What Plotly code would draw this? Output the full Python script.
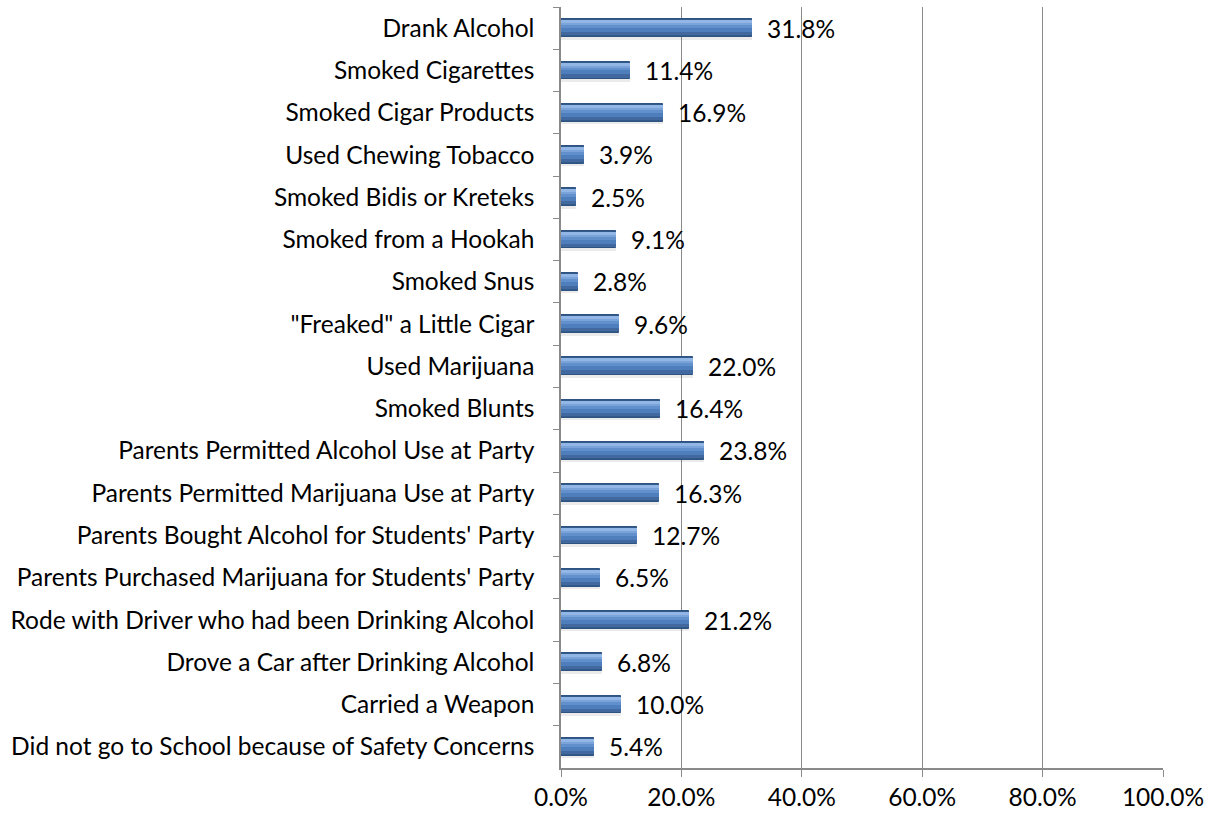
import plotly.graph_objects as go

categories = [
    "Drank Alcohol",
    "Smoked Cigarettes",
    "Smoked Cigar Products",
    "Used Chewing Tobacco",
    "Smoked Bidis or Kreteks",
    "Smoked from a Hookah",
    "Smoked Snus",
    "\"Freaked\" a Little Cigar",
    "Used Marijuana",
    "Smoked Blunts",
    "Parents Permitted Alcohol Use at Party",
    "Parents Permitted Marijuana Use at Party",
    "Parents Bought Alcohol for Students' Party",
    "Parents Purchased Marijuana for Students' Party",
    "Rode with Driver who had been Drinking Alcohol",
    "Drove a Car after Drinking Alcohol",
    "Carried a Weapon",
    "Did not go to School because of Safety Concerns",
]
values = [31.8, 11.4, 16.9, 3.9, 2.5, 9.1, 2.8, 9.6, 22.0, 16.4,
          23.8, 16.3, 12.7, 6.5, 21.2, 6.8, 10.0, 5.4]
x_ticks = [0, 20, 40, 60, 80, 100]
x_tick_labels = ["0.0%", "20.0%", "40.0%", "60.0%", "80.0%", "100.0%"]

FONT = "Lato"
FSIZE = 24.5
labels = [f"{v:.1f}%" for v in values]

fig = go.Figure()


def layer(width, offset, color, line_color=None):
    fig.add_trace(go.Bar(
        x=values, y=categories, orientation="h",
        width=width, offset=offset,
        marker=dict(color=color,
                    line=dict(width=1 if line_color else 0,
                              color=line_color or color)),
        hoverinfo="skip", showlegend=False,
    ))


# soft drop shadow beneath the bars
layer(0.44, -0.17, "rgba(0,0,0,0.08)")
# bar body; bands stacked top to bottom give a vertical gradient
layer(0.42, -0.21, "#31598A", "#2E5380")
BAR_TOP = -0.21
PX = 0.0235  # one pixel in category units
bands = [
    (1, 4, "#92B6E6"),
    (4, 6, "#7AA3DA"),
    (6, 9, "#6190CC"),
    (9, 13, "#4E7EBB"),
    (13, 16, "#41699F"),
]
for p0, p1, col in bands:
    layer((p1 - p0) * PX + 0.004, BAR_TOP + p0 * PX, col)

# value labels just right of each bar end
for cat, v, txt in zip(categories, values, labels):
    fig.add_annotation(
        x=v, y=cat, text=txt, showarrow=False,
        xanchor="left", yanchor="middle", xshift=13,
        font=dict(family=FONT, size=FSIZE, color="#000000"),
    )

fig.update_layout(
    width=1211, height=818,
    margin=dict(l=561, r=48, t=7, b=46),
    paper_bgcolor="white", plot_bgcolor="white",
    barmode="overlay",
    bargap=0,
    font=dict(family=FONT, size=FSIZE, color="#000000"),
)
fig.update_xaxes(
    range=[0, 100],
    tickvals=x_ticks, ticktext=x_tick_labels,
    showgrid=True, gridcolor="#8A8A8A", gridwidth=1,
    showline=True, linecolor="#8A8A8A", linewidth=1.5,
    ticks="outside", ticklen=7, tickcolor="#8A8A8A",
    zeroline=False,
    tickfont=dict(family=FONT, size=FSIZE, color="#000000"),
)
fig.update_yaxes(
    type="category",
    categoryorder="array", categoryarray=categories,
    autorange="reversed",
    showline=True, linecolor="#8A8A8A", linewidth=1.5,
    ticks="outside", ticklen=6, tickcolor="#8A8A8A",
    tickson="boundaries",
    showgrid=False,
    tickfont=dict(family=FONT, size=FSIZE, color="#000000"),
    ticklabelstandoff=20,
)

fig.write_html("out.html")
